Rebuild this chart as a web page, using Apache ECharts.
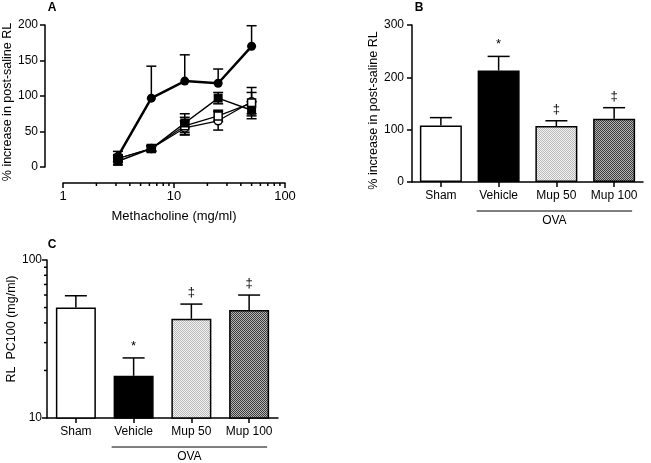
<!DOCTYPE html>
<html><head><meta charset="utf-8">
<script src="https://cdn.jsdelivr.net/npm/echarts@6/dist/echarts.min.js"></script>
<style>html,body{margin:0;padding:0;background:#fff}#c{width:651px;height:463px}</style>
</head><body><div id="c"></div>
<script>
const FONT = '"Liberation Sans", Arial, sans-serif';
// ---- Panel A: dose-response ----
const doses = [3.125, 6.25, 12.5, 25, 50];
const vehicleA = [15, 97, 121, 118, 170];
const vehicleAErr = [7, 45, 37, 20, 29];
const mup100A = [8, 26, 62, 97, 80];
const mup100AErr = [5, 4, 13, 8, 12];
const mup50A = [12, 26, 58, 72, 90];
const mup50AErr = [5, 4, 12, 8, 15];
const shamA = [12, 26, 55, 65, 92];
const shamAErr = [4, 3, 10, 13, 20];
const minorTicksA = [2, 3, 4, 5, 6, 7, 8, 9, 20, 30, 40, 50, 60, 70, 80, 90];
// ---- Panel B ----
const groups = ['Sham', 'Vehicle', 'Mup 50', 'Mup 100'];
const rlB = [108, 213, 107, 121];
const rlBErr = [15, 27, 10, 21];
const marksB = ['', '*', '\u2021', '\u2021'];
// ---- Panel C ----
const pc100C = [50, 18.5, 42.5, 48.3];
const pc100CErr = [9.4, 5.5, 10.1, 11.7];
const marksC = ['', '*', '\u2021', '\u2021'];
const minorTicksC = [20, 30, 40, 50, 60, 70, 80, 90];

function pattern(bg, fg) {
  const cv = document.createElement('canvas');
  cv.width = 2; cv.height = 2;
  const ctx = cv.getContext('2d');
  ctx.fillStyle = bg; ctx.fillRect(0, 0, 2, 2);
  ctx.fillStyle = fg; ctx.fillRect(0, 0, 1, 1); ctx.fillRect(1, 1, 1, 1);
  return { image: cv, repeat: 'repeat' };
}
const fills = ['#ffffff', '#000000', pattern('#f4f4f4', '#b8b8b8'), pattern('#b4b4b4', '#3c3c3c')];

const chart = echarts.init(document.getElementById('c'), null, { renderer: 'canvas' });

const axisText = { color: '#000', fontFamily: FONT, fontSize: 12 };
const axisLine = { show: true, onZero: false, lineStyle: { color: '#000', width: 1.5 } };
const axisTick = { show: true, length: 5, lineStyle: { color: '#000', width: 1.5 } };

function errSeriesA(vals, errs, both, xi, yi) {
  return {
    type: 'custom', xAxisIndex: xi, yAxisIndex: yi, z: 1, silent: true,
    data: doses.map((d, i) => [d, vals[i], errs[i]]),
    renderItem(params, api) {
      const x = api.value(0), y = api.value(1), e = api.value(2);
      const p = api.coord([x, y]);
      const pu = api.coord([x, y + e]);
      const pd = api.coord([x, y - e]);
      const st = { stroke: '#000', lineWidth: 1.5 };
      const ch = [
        { type: 'line', shape: { x1: p[0], y1: both ? pd[1] : p[1], x2: p[0], y2: pu[1] }, style: st },
        { type: 'line', shape: { x1: p[0] - 5, y1: pu[1], x2: p[0] + 5, y2: pu[1] }, style: st }
      ];
      if (both) ch.push({ type: 'line', shape: { x1: p[0] - 5, y1: pd[1], x2: p[0] + 5, y2: pd[1] }, style: st });
      return { type: 'group', children: ch };
    }
  };
}

function errSeriesBar(vals, errs, marks, xi, yi) {
  return {
    type: 'custom', xAxisIndex: xi, yAxisIndex: yi, z: 3, silent: true,
    data: vals.map((v, i) => [i, v, errs[i]]),
    renderItem(params, api) {
      const i = api.value(0), v = api.value(1), e = api.value(2);
      const mark = marks[params.dataIndex];
      const p = api.coord([i, v]);
      const pu = api.coord([i, v + e]);
      const st = { stroke: '#000', lineWidth: 1.5 };
      const ch = [
        { type: 'line', shape: { x1: p[0], y1: p[1], x2: p[0], y2: pu[1] }, style: st },
        { type: 'line', shape: { x1: p[0] - 11, y1: pu[1], x2: p[0] + 11, y2: pu[1] }, style: st }
      ];
      if (mark) ch.push({ type: 'text', style: { text: mark, x: p[0], y: pu[1] - 5, align: 'center', verticalAlign: 'bottom', fill: '#000', font: '13px ' + FONT } });
      return { type: 'group', children: ch };
    }
  };
}

function barSeries(vals, xi, yi, bw) {
  return {
    type: 'bar', xAxisIndex: xi, yAxisIndex: yi, barWidth: bw, z: 2,
    data: vals.map((v, i) => ({ value: v, itemStyle: { color: fills[i], borderColor: '#000', borderWidth: 1.5 } })),
    silent: true
  };
}

const lineCommon = { type: 'line', xAxisIndex: 0, yAxisIndex: 0, z: 2, silent: true };

chart.setOption({
  animation: false,
  backgroundColor: '#fff',
  textStyle: { fontFamily: FONT },
  grid: [
    { left: 63, top: 25, width: 222, height: 142 },
    { left: 412, top: 25, width: 231, height: 157 },
    { left: 47, top: 260, width: 231, height: 158 }
  ],
  xAxis: [
    { gridIndex: 0, type: 'log', logBase: 10, min: 1, max: 100, offset: 16,
      name: 'Methacholine (mg/ml)', nameLocation: 'middle', nameGap: 27, nameTextStyle: { color: '#000', fontFamily: FONT, fontSize: 13 },
      axisLine, axisTick, axisLabel: Object.assign({ margin: 7 }, axisText, { fontSize: 13 }), splitLine: { show: false } },
    { gridIndex: 1, type: 'category', data: groups,
      axisLine, axisTick: Object.assign({ alignWithLabel: true }, axisTick), axisLabel: Object.assign({ margin: 8, interval: 0 }, axisText), splitLine: { show: false } },
    { gridIndex: 2, type: 'category', data: groups,
      axisLine, axisTick: Object.assign({ alignWithLabel: true }, axisTick), axisLabel: Object.assign({ margin: 8, interval: 0 }, axisText), splitLine: { show: false } }
  ],
  yAxis: [
    { gridIndex: 0, type: 'value', min: 0, max: 200, interval: 50, offset: 18,
      name: '% increase in post-saline RL', nameLocation: 'middle', nameGap: 28, nameRotate: 90,
      nameTextStyle: { color: '#000', fontFamily: FONT, fontSize: 12.5, padding: [0, 12, 0, 0] },
      axisLine, axisTick, axisLabel: Object.assign({ margin: 7 }, axisText), splitLine: { show: false } },
    { gridIndex: 1, type: 'value', min: 0, max: 300, interval: 100,
      name: '% increase in post-saline RL', nameLocation: 'middle', nameGap: 30, nameRotate: 90,
      nameTextStyle: { color: '#000', fontFamily: FONT, fontSize: 12.5, padding: [0, 14, 0, 0] },
      axisLine, axisTick, axisLabel: Object.assign({ margin: 8 }, axisText), splitLine: { show: false } },
    { gridIndex: 2, type: 'log', logBase: 10, min: 10, max: 100,
      name: 'RL  PC100 (mg/ml)', nameLocation: 'middle', nameGap: 29, nameRotate: 90,
      nameTextStyle: { color: '#000', fontFamily: FONT, fontSize: 12.5, padding: [0, 0, 0, 20] },
      axisLine, axisTick, axisLabel: Object.assign({ margin: 5 }, axisText), splitLine: { show: false } }
  ],
  series: [
    errSeriesA(shamA, shamAErr, true, 0, 0),
    errSeriesA(mup50A, mup50AErr, true, 0, 0),
    errSeriesA(mup100A, mup100AErr, true, 0, 0),
    errSeriesA(vehicleA, vehicleAErr, false, 0, 0),
    Object.assign({}, lineCommon, { name: 'Sham', data: doses.map((d, i) => [d, shamA[i]]), symbol: 'circle', symbolSize: 8,
      lineStyle: { color: '#000', width: 1.2 }, itemStyle: { color: '#fff', borderColor: '#000', borderWidth: 1.5 } }),
    Object.assign({}, lineCommon, { name: 'Mup 50', data: doses.map((d, i) => [d, mup50A[i]]), symbol: 'rect', symbolSize: 8,
      lineStyle: { color: '#000', width: 1.2 }, itemStyle: { color: '#fff', borderColor: '#000', borderWidth: 1.5 } }),
    Object.assign({}, lineCommon, { name: 'Mup 100', data: doses.map((d, i) => [d, mup100A[i]]), symbol: 'rect', symbolSize: 9,
      lineStyle: { color: '#000', width: 1.5 }, itemStyle: { color: '#000', borderColor: '#000', borderWidth: 0 } }),
    Object.assign({}, lineCommon, { name: 'Vehicle', data: doses.map((d, i) => [d, vehicleA[i]]), symbol: 'circle', symbolSize: 9,
      lineStyle: { color: '#000', width: 2.5 }, itemStyle: { color: '#000', borderColor: '#000', borderWidth: 0 } }),
    barSeries(rlB, 1, 1, 42),
    errSeriesBar(rlB, rlBErr, marksB, 1, 1),
    barSeries(pc100C, 2, 2, 40),
    errSeriesBar(pc100C, pc100CErr, marksC, 2, 2)
  ]
});

// Decorations: minor ticks, OVA brackets, panel letters (positions from the axes)
const g = [];
const tickSt = { stroke: '#000', lineWidth: 1.5 };
const axA = chart.convertToPixel({ xAxisIndex: 0, yAxisIndex: 0 }, [1, 0]);
const axisYA = axA[1] + 16;
minorTicksA.forEach(v => {
  const p = chart.convertToPixel({ xAxisIndex: 0 }, v);
  g.push({ type: 'line', shape: { x1: p, y1: axisYA, x2: p, y2: axisYA + 3 }, style: tickSt, silent: true });
});
const gridCLeft = chart.convertToPixel({ xAxisIndex: 2 }, groups[0]) - chart.getModel().getComponent('xAxis', 2).axis.getBandWidth() / 2;
minorTicksC.forEach(v => {
  const p = chart.convertToPixel({ yAxisIndex: 2 }, v);
  g.push({ type: 'line', shape: { x1: gridCLeft, y1: p, x2: gridCLeft - 3, y2: p }, style: tickSt, silent: true });
});
function ova(xi, yi, baseY) {
  const a = chart.convertToPixel({ xAxisIndex: xi }, groups[1]);
  const b = chart.convertToPixel({ xAxisIndex: xi }, groups[3]);
  const x1 = a - 22, x2 = b + 18;
  const y0 = chart.convertToPixel({ yAxisIndex: yi }, baseY);
  g.push({ type: 'line', shape: { x1, y1: y0 + 29, x2, y2: y0 + 29 }, style: { stroke: '#000', lineWidth: 1 }, silent: true });
  g.push({ type: 'text', style: { text: 'OVA', x: (x1 + x2) / 2, y: y0 + 39, align: 'center', verticalAlign: 'middle', fill: '#000', font: '12px ' + FONT }, silent: true });
}
ova(1, 1, 0);
ova(2, 2, 10);
[['A', 52, 8], ['B', 419, 8], ['C', 52, 245]].forEach(([t, x, y]) => {
  g.push({ type: 'text', style: { text: t, x, y, align: 'center', verticalAlign: 'middle', fill: '#000', font: 'bold 12px ' + FONT }, silent: true });
});
chart.setOption({ graphic: g });
</script>
</body></html>
